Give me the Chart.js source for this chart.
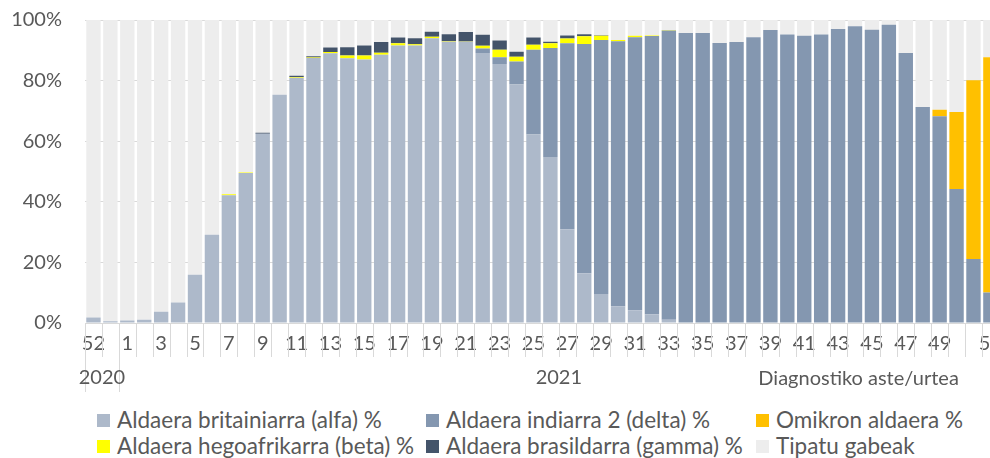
<!DOCTYPE html>
<html lang="eu">
<head>
<meta charset="utf-8">
<title>Aldaerak diagnostiko astearen arabera</title>
<script src="https://cdn.jsdelivr.net/npm/chart.js@4.4.1/dist/chart.umd.min.js"></script>
<style>
    html, body { margin: 0; padding: 0; background: #fff; overflow: hidden; }
    #wrap { position: relative; width: 1003px; height: 458px; }
    #chart { position: absolute; left: 0; top: 0; }
    #legend {
        position: absolute; left: 97px; top: 406px;
        display: grid; grid-template-columns: 329px 330px 240px; grid-auto-rows: 26.5px;
        font-family: Lato, sans-serif; font-size: 22.5px; color: #595959;
    }
    #legend .item { display: flex; align-items: center; white-space: nowrap; }
    #legend .box { width: 13px; height: 13px; margin-right: 7px; flex: none; position: relative; top: 1px; }
</style>
</head>
<body>
<div id="wrap">
    <canvas id="chart" width="1003" height="400"></canvas>
    <div id="legend"></div>
</div>
<script>
// Weeks: 52-53 of 2020, then 1-52 of 2021
const weekLabels = ['52','53','1','2','3','4','5','6','7','8','9','10','11','12','13','14','15','16','17','18','19','20',
    '21','22','23','24','25','26','27','28','29','30','31','32','33','34','35','36','37','38','39','40','41','42',
    '43','44','45','46','47','48','49','50','51','52'];
const tickLabels = ['52','','1','','3','','5','','7','','9','','11','','13','','15','','17','','19','','21','',
    '23','','25','','27','','29','','31','','33','','35','','37','','39','','41','','43','','45','','47','',
    '49','','','52'];
const yearLabels = ['2020', '2021'];
const yearStart = [0, 2];   // index of first week in each year

// Shares per week (%)
const alfa = [1.8,0.6,0.8,1.1,3.7,6.8,15.9,29.1,42.2,49.5,62.5,75.3,80.9,87.5,89.0,87.4,87.0,88.5,91.6,91.6,
    94.0,92.8,92.8,89.1,85.5,78.7,62.2,54.8,30.9,16.4,9.6,5.5,4.2,2.9,1.1,
    0,0,0,0,0,0,0,0,0,0,0,0,0,0,0,0,0,0,0];
const delta = [0,0,0,0,0,0,0,0,0,0,0,0,0,0,0,0,0,0,0,0,0,0,0,
    1.5,2.2,7.6,28.0,36.0,61.4,75.7,83.8,87.5,90.1,91.8,95.4,95.7,95.7,92.4,92.7,94.3,96.7,95.2,94.8,95.2,
    97.0,97.9,96.8,98.4,89.1,71.3,68.2,44.2,21.1,10.1];
const omikron = [0,0,0,0,0,0,0,0,0,0,0,0,0,0,0,0,0,0,0,0,0,0,0,0,0,0,0,0,0,0,0,0,0,0,0,0,0,0,0,0,
    0,0,0,0,0,0,0,0,0,0,2.2,25.4,59.0,77.6];
const beta = [0,0,0,0,0,0,0,0,0.3,0.2,0,0,0.3,0.1,0.4,0.9,1.3,0.7,0.7,0.4,0.5,0.2,0.1,0.9,2.5,1.6,1.6,1.5,
    1.6,2.5,1.4,0.4,0.5,0.2,0.2,
    0,0,0,0,0,0,0,0,0,0,0,0,0,0,0,0,0,0,0];
const gamma = [0,0,0,0,0,0,0,0,0,0,0.3,0,0.4,0.4,1.5,2.7,3.3,3.5,1.9,2.0,1.6,2.3,3.1,3.6,3.0,1.6,2.4,0.5,
    1.0,0.7,0.2,
    0,0,0,0,0,0,0,0,0,0,0,0,0,0,0,0,0,0,0,0,0,0,0];
const untyped = [98.2,99.4,99.2,98.9,96.3,93.2,84.1,70.9,57.5,50.3,37.2,24.7,18.4,12.0,9.1,9.0,8.4,7.3,5.8,6.0,
    3.9,4.7,4.0,4.9,6.8,10.5,5.8,7.2,5.1,4.7,5.0,6.6,5.2,5.1,3.3,4.3,4.3,7.6,7.3,5.7,3.3,4.8,5.2,4.8,
    3.0,2.1,3.2,1.6,10.9,28.7,29.6,30.4,19.9,12.3];

const textColor = '#595959';
const lineColor = '#D9D9D9';
const fontFamily = 'Lato, sans-serif';

// Year row under the week labels, with the longer separators and the axis title
const yearAxis = {
    id: 'yearAxis',
    afterDraw(chart) {
        const { ctx, chartArea } = chart;
        const x = chart.scales.x;
        const n = weekLabels.length;
        const step = (chartArea.right - chartArea.left) / n;
        const edge = i => (i < n ? x.getPixelForValue(i) - step / 2 : x.getPixelForValue(n - 1) + step / 2);

        ctx.save();
        ctx.strokeStyle = lineColor;
        ctx.lineWidth = 1;
        for (let i = 0; i <= n; i++) {
            const px = Math.round(edge(i)) + 0.5;
            const long = yearStart.includes(i) || i === n;
            ctx.beginPath();
            ctx.moveTo(px, chartArea.bottom);
            ctx.lineTo(px, chartArea.bottom + (long ? 69 : 34));
            ctx.stroke();
        }

        ctx.fillStyle = textColor;
        ctx.font = '20px ' + fontFamily;
        ctx.textBaseline = 'middle';
        ctx.textAlign = 'center';
        yearLabels.forEach((label, k) => {
            const from = yearStart[k];
            const to = k + 1 < yearStart.length ? yearStart[k + 1] : n;
            ctx.fillText(label, (edge(from) + edge(to)) / 2, chartArea.bottom + 55);
        });

        ctx.textAlign = 'right';
        ctx.fillText('Diagnostiko aste/urtea', chartArea.right - 40, chartArea.bottom + 56);
        ctx.restore();
    }
};

function buildLegend(chart) {
    const box = document.getElementById('legend');
    box.innerHTML = '';
    chart.data.datasets.forEach(ds => {
        const item = document.createElement('div');
        item.className = 'item';
        const swatch = document.createElement('span');
        swatch.className = 'box';
        swatch.style.background = ds.backgroundColor;
        item.appendChild(swatch);
        item.appendChild(document.createTextNode(ds.label));
        box.appendChild(item);
    });
}

const ctx = document.getElementById('chart').getContext('2d');
const variantChart = new Chart(ctx, {
    type: 'bar',
    data: {
        labels: weekLabels,
        datasets: [
            { label: 'Aldaera britainiarra (alfa) %', data: alfa, backgroundColor: '#ADB9CA' },
            { label: 'Aldaera indiarra 2 (delta) %', data: delta, backgroundColor: '#8497B0' },
            { label: 'Omikron aldaera %', data: omikron, backgroundColor: '#FFC000' },
            { label: 'Aldaera hegoafrikarra (beta) %', data: beta, backgroundColor: '#FFFF00' },
            { label: 'Aldaera brasildarra (gamma) %', data: gamma, backgroundColor: '#44546A' },
            { label: 'Tipatu gabeak', data: untyped, backgroundColor: '#EDEDED' }
        ]
    },
    options: {
        responsive: false,
        animation: false,
        barPercentage: 0.85,
        categoryPercentage: 1,
        layout: { padding: { top: 20, right: 0, left: 0, bottom: 0 } },
        plugins: {
            legend: { display: false },
            tooltip: { mode: 'index', intersect: false }
        },
        scales: {
            x: {
                stacked: true,
                grid: { display: false },
                border: { color: lineColor },
                ticks: {
                    autoSkip: false,
                    maxRotation: 0,
                    padding: 1,
                    color: textColor,
                    font: { family: fontFamily, size: 20 },
                    callback: (value, index) => tickLabels[index]
                },
                afterFit(scale) { scale.height = 77; }
            },
            y: {
                stacked: true,
                min: 0,
                max: 100,
                // invisible tick marks keep the labels clear of the plot
                grid: { color: lineColor, drawTicks: true, tickLength: 23, tickColor: 'rgba(0,0,0,0)' },
                border: { display: false },
                ticks: {
                    stepSize: 20,
                    padding: 0,
                    color: textColor,
                    font: { family: fontFamily, size: 20 },
                    callback: value => value + '%'
                },
                afterFit(scale) { scale.width = 85; }
            }
        }
    },
    plugins: [yearAxis]
});

buildLegend(variantChart);
</script>
</body>
</html>
